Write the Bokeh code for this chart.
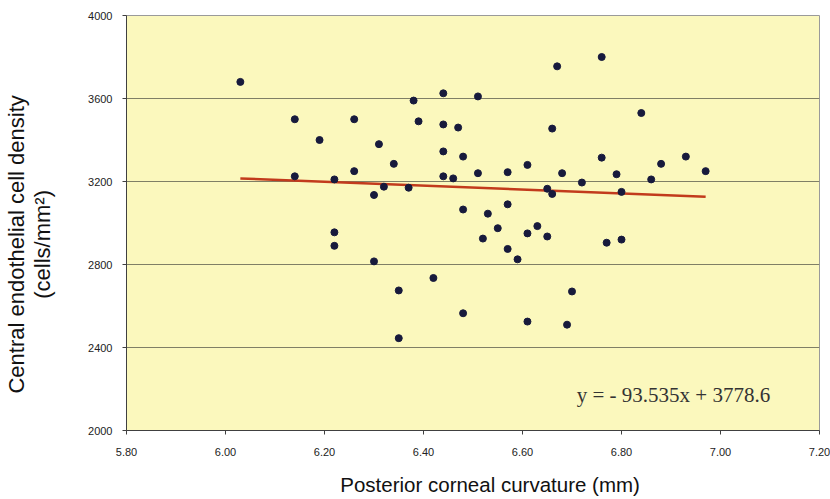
from bokeh.plotting import figure
from bokeh.models import ColumnDataSource, FixedTicker, Label, Range1d
from bokeh.embed import file_html
from bokeh.resources import INLINE

# ---- data ----
curvature_mm = [6.03, 6.14, 6.14, 6.19, 6.22, 6.22, 6.22, 6.26, 6.26, 6.30, 6.31, 6.32,
                6.34, 6.30, 6.35, 6.35, 6.37, 6.38, 6.39, 6.42, 6.44, 6.44, 6.44, 6.44,
                6.46, 6.47, 6.48, 6.48, 6.48, 6.51, 6.51, 6.52, 6.53, 6.55, 6.57, 6.57,
                6.57, 6.59, 6.61, 6.61, 6.61, 6.63, 6.65, 6.65, 6.66, 6.66, 6.67, 6.68,
                6.69, 6.70, 6.72, 6.76, 6.76, 6.77, 6.79, 6.80, 6.80, 6.84, 6.86, 6.88,
                6.93, 6.97]
cell_density = [3680, 3500, 3225, 3400, 3210, 2955, 2890, 3500, 3250, 3135, 3380, 3175,
                3285, 2815, 2675, 2445, 3170, 3590, 3490, 2735, 3625, 3475, 3345, 3225,
                3215, 3460, 3320, 3065, 2565, 3610, 3240, 2925, 3045, 2975, 3245, 3090,
                2875, 2825, 3280, 2950, 2525, 2985, 2935, 3165, 3140, 3455, 3755, 3240,
                2510, 2670, 3195, 3800, 3315, 2905, 3235, 3150, 2920, 3530, 3210, 3285,
                3320, 3250]

fit_slope = -93.535
fit_intercept = 3778.6
fit_x = [6.03, 6.97]
fit_y = [fit_slope * v + fit_intercept for v in fit_x]
equation_text = "y = - 93.535x + 3778.6"

x_ticks = [5.80, 6.00, 6.20, 6.40, 6.60, 6.80, 7.00, 7.20]
y_ticks = [2000, 2400, 2800, 3200, 3600, 4000]

# ---- figure ----
p = figure(width=830, height=499, output_backend="svg", toolbar_location=None,
           x_range=Range1d(5.80, 7.20), y_range=Range1d(2000, 4000),
           min_border_left=125, min_border_right=11, min_border_top=15, min_border_bottom=69)

p.background_fill_color = "#fbf8bd"
p.border_fill_color = "white"
p.outline_line_color = "#9a9a9a"
p.outline_line_width = 1

p.xgrid.visible = False
p.ygrid.ticker = FixedTicker(ticks=[2400, 2800, 3200, 3600])
p.ygrid.grid_line_color = "#7f7f66"
p.ygrid.grid_line_width = 1

p.xaxis.ticker = FixedTicker(ticks=x_ticks)
p.xaxis.major_label_overrides = {t: f"{t:.2f}" for t in x_ticks}
p.yaxis.ticker = FixedTicker(ticks=y_ticks)
p.yaxis.major_label_overrides = {t: str(t) for t in y_ticks}

for ax in (p.xaxis[0], p.yaxis[0]):
    ax.axis_line_color = "#404040"
    ax.axis_line_width = 1
    ax.major_tick_line_color = "#404040"
    ax.major_tick_out = 4
    ax.major_tick_in = 0
    ax.minor_tick_line_color = None
    ax.major_label_text_font = "Liberation Sans"
    ax.major_label_text_font_size = "11px"
    ax.major_label_text_color = "#222222"
    ax.axis_label_text_font = "Liberation Sans"
    ax.axis_label_text_font_style = "normal"
    ax.axis_label_text_color = "#111111"

p.xaxis.major_label_standoff = 13
p.yaxis.major_label_standoff = 10
p.xaxis.axis_label = "\u00a0" * 6 + "Posterior corneal curvature (mm)"
p.xaxis.axis_label_text_font_size = "20.5px"
p.xaxis.axis_label_standoff = 14

pad = "\u00a0" * 7
p.yaxis.axis_label = "Central endothelial cell density" + pad + "\n(cells/mm\u00b2)" + pad
p.yaxis.axis_label_text_font_size = "22px"
p.yaxis.axis_label_text_line_height = 1.05
p.yaxis.axis_label_standoff = 30

src = ColumnDataSource(dict(x=curvature_mm, y=cell_density))
p.line(fit_x, fit_y, line_color="#c23b1c", line_width=2.5)
p.scatter("x", "y", source=src, marker="circle", size=7,
          fill_color="#171a3c", line_color="#171a3c")

eq_x = 6.905
eq_y = 2173
p.add_layout(Label(x=eq_x, y=eq_y, text=equation_text, text_align="center",
                   text_baseline="middle", text_font="Liberation Serif",
                   text_font_size="21px", text_color="#333333"))

open("out.html", "w").write(file_html(p, INLINE))
